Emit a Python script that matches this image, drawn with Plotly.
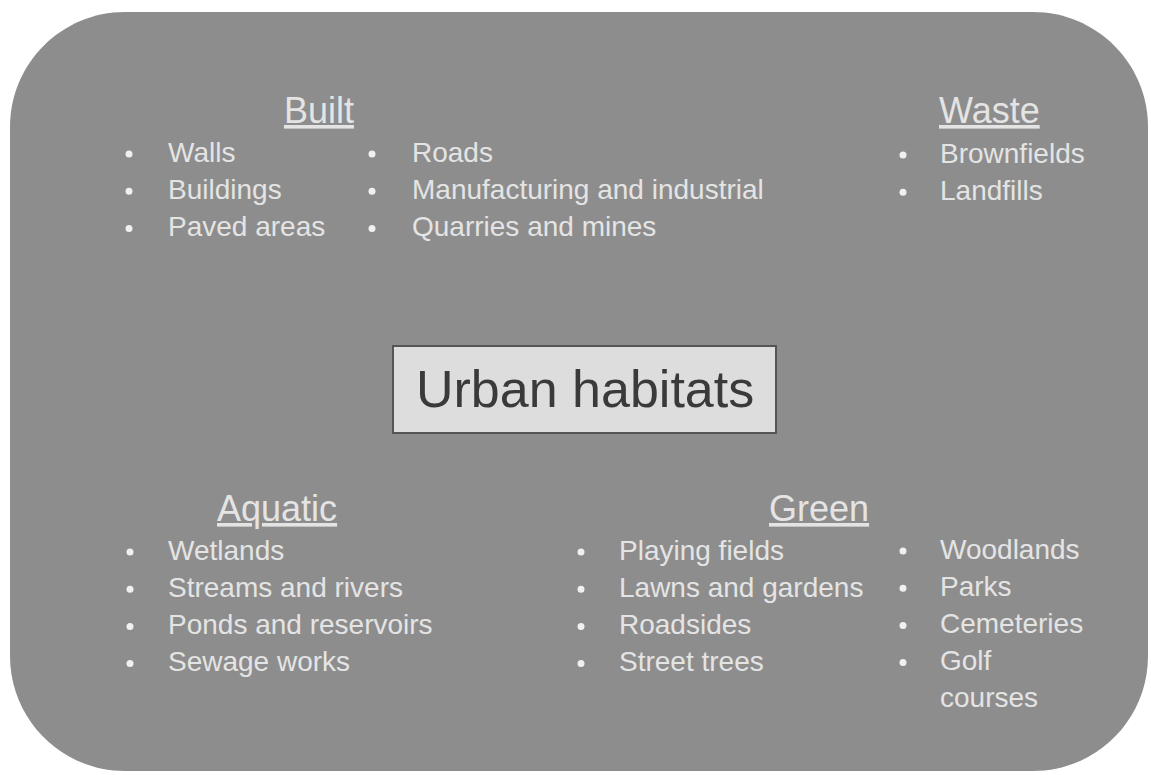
import plotly.graph_objects as go

# ---- content ----
center_title = "Urban habitats"

built_title = "Built"
built_col1 = ["Walls", "Buildings", "Paved areas"]
built_col2 = ["Roads", "Manufacturing and industrial", "Quarries and mines"]

waste_title = "Waste"
waste_items = ["Brownfields", "Landfills"]

aquatic_title = "Aquatic"
aquatic_items = ["Wetlands", "Streams and rivers", "Ponds and reservoirs", "Sewage works"]

green_title = "Green"
green_col1 = ["Playing fields", "Lawns and gardens", "Roadsides", "Street trees"]
green_col2 = ["Woodlands", "Parks", "Cemeteries", "Golf\ncourses"]

# ---- layout constants (pixel space of the window) ----
W, H = 1151, 775
BG = "#8d8d8d"
TXT = "#e4e4e4"
BUL = "#f0f0f0"
FONT = "Liberation Sans, Arial, sans-serif"
ITEM_SIZE = 28
HEAD_SIZE = 36
ROW = 37.2

# groups: (items, bullet_x, text_x, first_row_y)
groups = [
    (built_col1, 129, 166, 152),
    (built_col2, 372, 410, 152),
    (waste_items, 903, 938, 153),
    (aquatic_items, 130, 166, 550),
    (green_col1, 581, 617, 550),
    (green_col2, 903, 938, 549),
]
headers = [
    (built_title, 319, 110),
    (waste_title, 989, 110),
    (aquatic_title, 277, 508),
    (green_title, 819, 508),
]

fig = go.Figure()

annotations = []
bx, by = [], []
for items, bxp, txp, y0 in groups:
    row = 0
    for item in items:
        lines = item.split("\n")
        bx.append(bxp)
        by.append(y0 + row * ROW + 2)
        for ln in lines:
            annotations.append(dict(
                x=txp, y=y0 + row * ROW, xref="x", yref="y",
                text=ln, showarrow=False, xanchor="left", yanchor="middle",
                font=dict(family=FONT, size=ITEM_SIZE, color=TXT)))
            row += 1

for title, hx, hy in headers:
    annotations.append(dict(
        x=hx, y=hy, xref="x", yref="y", text="<u>" + title + "</u>",
        showarrow=False, xanchor="center", yanchor="middle",
        font=dict(family=FONT, size=HEAD_SIZE, color=TXT)))

annotations.append(dict(
    x=585, y=389, xref="x", yref="y", text=center_title, showarrow=False,
    xanchor="center", yanchor="middle",
    font=dict(family=FONT, size=52, color="#3a3a3a")))

fig.add_trace(go.Scatter(
    x=bx, y=by, mode="markers", hoverinfo="skip",
    marker=dict(size=7, color=BUL, line=dict(width=0)), showlegend=False))

# rounded rectangle background
L, R, T, B, r = 10, 1148, 12, 771, 115
k = 0.5523 * r
path = (f"M {L+r},{T} L {R-r},{T} C {R-r+k},{T} {R},{T+r-k} {R},{T+r} "
        f"L {R},{B-r} C {R},{B-r+k} {R-r+k},{B} {R-r},{B} "
        f"L {L+r},{B} C {L+r-k},{B} {L},{B-r+k} {L},{B-r} "
        f"L {L},{T+r} C {L},{T+r-k} {L+r-k},{T} {L+r},{T} Z")

shapes = [
    dict(type="path", path=path, xref="x", yref="y", fillcolor=BG,
         line=dict(width=0), layer="below"),
    dict(type="rect", x0=393, x1=776, y0=346, y1=433, xref="x", yref="y",
         fillcolor="#dddddd", line=dict(color="#555555", width=2), layer="below"),
]

fig.update_layout(
    width=W, height=H, margin=dict(l=0, r=0, t=0, b=0),
    paper_bgcolor="white", plot_bgcolor="white",
    xaxis=dict(range=[0, W], visible=False, fixedrange=True),
    yaxis=dict(range=[H, 0], visible=False, fixedrange=True),
    shapes=shapes, annotations=annotations, showlegend=False,
)

fig.write_html(
    "out.html",
    config={"displayModeBar": False},
    post_script="document.body.style.margin='0';document.body.style.overflow='hidden';",
)
